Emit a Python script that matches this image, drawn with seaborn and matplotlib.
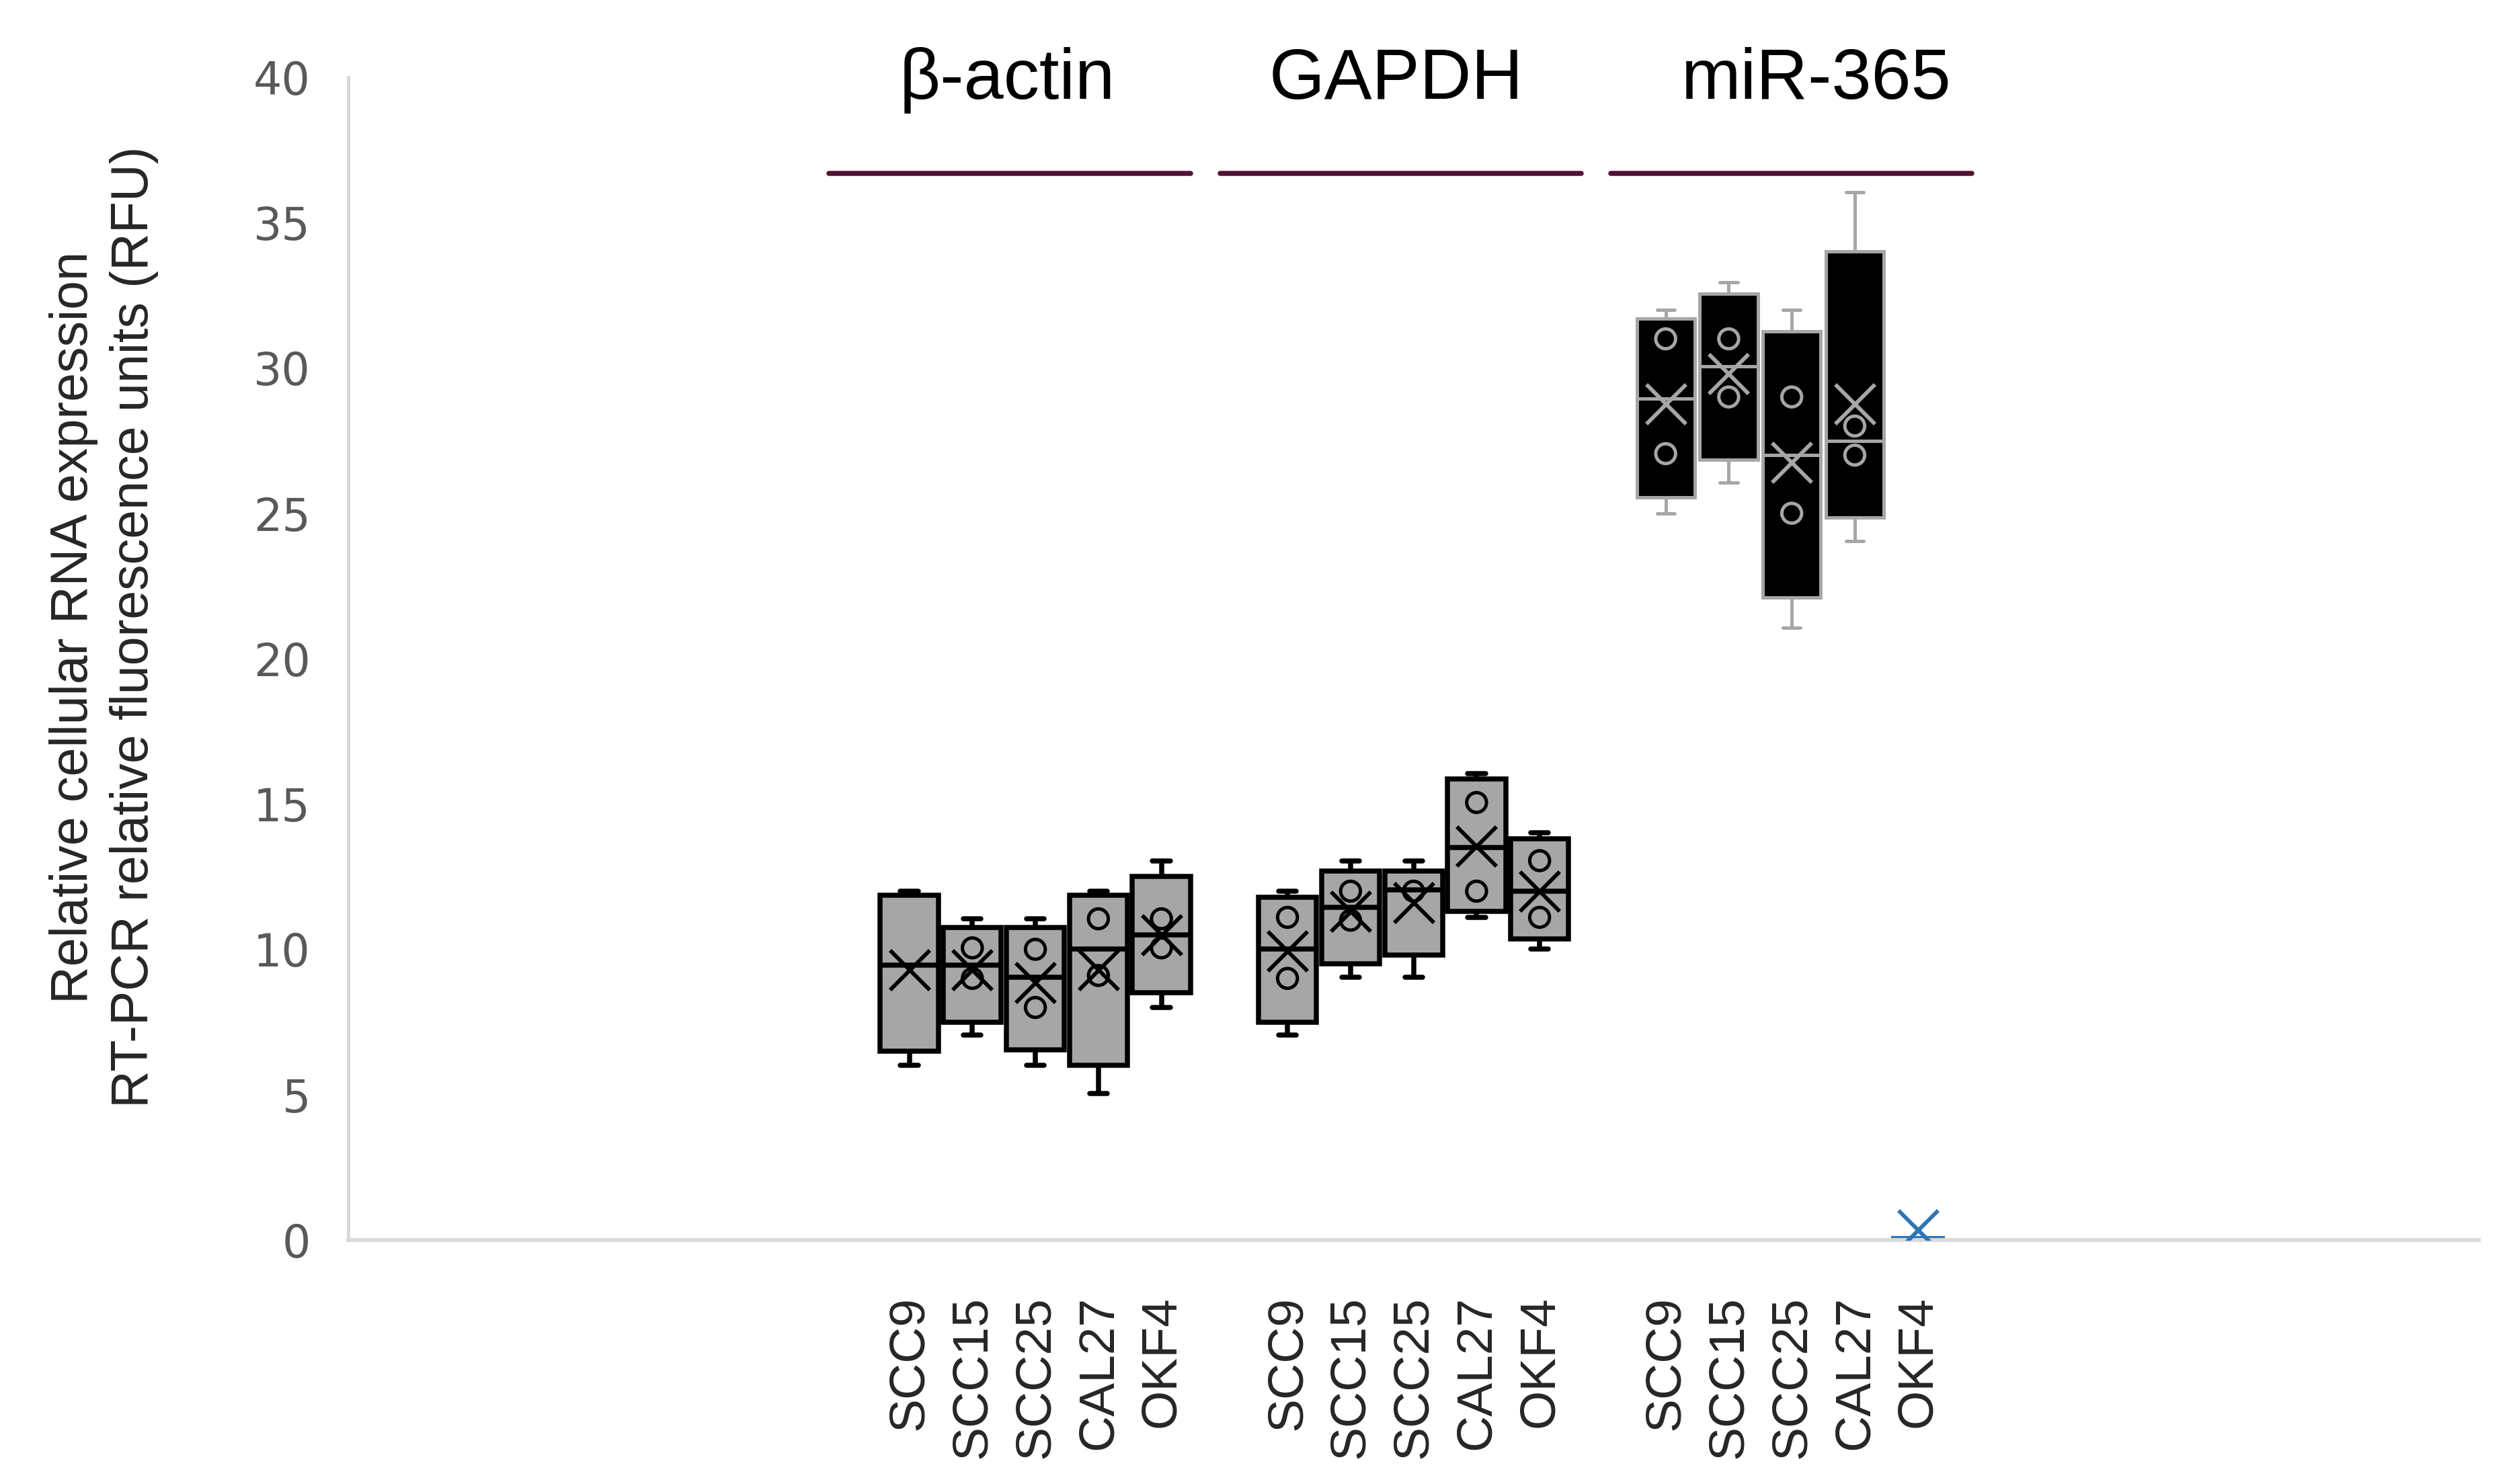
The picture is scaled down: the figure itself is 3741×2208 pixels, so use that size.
import numpy as np
import pandas as pd
import matplotlib
matplotlib.use("Agg")
import matplotlib.pyplot as plt
import seaborn as sns

# Categories
genes = ["β-actin", "GAPDH", "miR-365"]
cells = ["SCC9", "SCC15", "SCC25", "CAL27", "OKF4"]

# Box summaries per cell line: whisker low, Q1, median, Q3, whisker high
actin_box = [[6.0, 6.5, 9.45, 11.85, 12.0],
             [7.05, 7.5, 9.45, 10.75, 11.05],
             [6.0, 6.55, 9.05, 10.75, 11.05],
             [5.05, 6.0, 10.0, 11.85, 12.0],
             [8.0, 8.5, 10.5, 12.5, 13.05]]
gapdh_box = [[7.05, 7.5, 10.0, 11.8, 12.0],
             [9.05, 9.5, 11.45, 12.7, 13.05],
             [9.05, 9.8, 12.05, 12.7, 13.05],
             [11.1, 11.3, 13.5, 15.85, 16.05],
             [10.0, 10.35, 12.0, 13.8, 14.0]]
mir_box = [[25.0, 25.55, 28.95, 31.7, 32.0],
           [26.05, 26.85, 30.05, 32.55, 32.95],
           [21.05, 22.1, 27.0, 31.25, 32.0],
           [24.05, 24.85, 27.5, 34.0, 36.05],
           [0.0, 0.0, 0.05, 0.1, 0.1]]

# Means (X markers)
actin_mean = [9.3, 9.3, 8.85, 9.3, 10.5]
gapdh_mean = [9.95, 11.3, 11.6, 13.55, 12.0]
mir_mean = [28.75, 29.8, 26.75, 28.75, 0.35]

# Inner points (circles)
actin_pts = [[], [10.05, 9.0], [10.0, 8.0], [11.05, 9.1], [11.05, 10.05]]
gapdh_pts = [[11.1, 9.0], [12.0, 11.0], [12.0], [15.05, 12.0], [13.05, 11.1]]
mir_pts = [[31.0, 27.05], [31.0, 29.0], [29.0, 25.0], [28.0, 27.0], []]

boxes = [actin_box, gapdh_box, mir_box]
means = [actin_mean, gapdh_mean, mir_mean]
points = [actin_pts, gapdh_pts, mir_pts]

# long-form tables
rows, mrows, prows = [], [], []
for gi, gene in enumerate(genes):
    for ci, cell in enumerate(cells):
        pos = gi * 6 + ci
        if gene == "miR-365":
            style = "blue" if cell == "OKF4" else "dark"
        else:
            style = "light"
        for v in boxes[gi][ci]:
            rows.append({"gene": gene, "cell": cell, "pos": pos, "value": v, "style": style})
        mrows.append({"pos": pos, "value": means[gi][ci], "style": style})
        for v in points[gi][ci]:
            prows.append({"pos": pos, "value": v, "style": style})
df = pd.DataFrame(rows)
df_mean = pd.DataFrame(mrows)
df_pts = pd.DataFrame(prows)

sns.set_style("white")
narrow = ["Liberation Sans Narrow", "Liberation Sans", "DejaVu Sans"]
plt.rcParams["font.family"] = ["Liberation Sans", "DejaVu Sans"]

fig = plt.figure(figsize=(3741 / 300, 2208 / 300), dpi=300)
ax = fig.add_axes([0.1385, 0.1644, 0.8471, 0.7836])

styles = {
    "light": dict(fill="#a6a6a6", line="black", lw=1.8, mark="black", width=0.92),
    "dark": dict(fill="black", line="#a6a6a6", lw=1.2, mark="#a6a6a6", width=0.92),
    "blue": dict(fill="white", line="#2e75b6", lw=1.2, mark="#2e75b6", width=0.8),
}

for name, st in styles.items():
    sub = df[df["style"] == name]
    sns.boxplot(data=sub, x="pos", y="value", native_scale=True, whis=(0, 100),
                width=st["width"], color=st["fill"], linecolor=st["line"],
                linewidth=st["lw"], saturation=1, fliersize=0, capwidths=0.28, ax=ax)
    ms = df_mean[df_mean["style"] == name]
    sns.scatterplot(data=ms, x="pos", y="value", marker="x", s=200, color=st["mark"],
                    linewidth=1.4, zorder=4, legend=False, ax=ax)
    ps = df_pts[df_pts["style"] == name]
    if len(ps):
        sns.scatterplot(data=ps, x="pos", y="value", marker="o", s=50, facecolor="none",
                        edgecolor=st["mark"], linewidth=1.2, zorder=4, legend=False, ax=ax)

# group header lines and titles
for gi, gene in enumerate(genes):
    x0 = gi * 6 - 1.27 + gi * 0.2
    x1 = gi * 6 + 4.46 + gi * 0.2
    ax.plot([x0, x1], [36.7, 36.7], color="#521233", lw=1.8, clip_on=False,
            solid_capstyle="round")
title_x = [1.55, 7.72, 14.39]
for gene, tx in zip(genes, title_x):
    ax.text(tx, 39.25, gene, ha="center", va="baseline", fontsize=25.5,
            color="black", clip_on=False)

ax.set_xlim(-8.9, 24.9)
ax.set_ylim(0, 40)
ticks = [gi * 6 + ci for gi in range(3) for ci in range(5)]
ax.set_xticks(ticks)
ax.set_xticklabels(cells * 3, rotation=90, fontsize=18, family=narrow, va="top")
ax.set_yticks(range(0, 41, 5))
ax.set_yticklabels([str(v) for v in range(0, 41, 5)], fontsize=16,
                   color="#595959", family=["DejaVu Sans"])
ax.tick_params(axis="x", length=0, pad=20)
ax.tick_params(axis="y", length=0, pad=13.5)
ax.set_xlabel("")
ax.set_ylabel("")

for s in ["top", "right"]:
    ax.spines[s].set_visible(False)
ax.spines["left"].set_color("#d9d9d9")
ax.spines["left"].set_linewidth(1.2)
ax.spines["bottom"].set_color("#d9d9d9")
ax.spines["bottom"].set_linewidth(1.4)

fig.text(0.0414, 0.5774,
         "Relative cellular RNA expression\nRT-PCR relative fluorescence units (RFU)",
         rotation=90, ha="center", va="center", fontsize=18.5, family=narrow,
         linespacing=1.3)

fig.savefig("out.png", dpi=300)
